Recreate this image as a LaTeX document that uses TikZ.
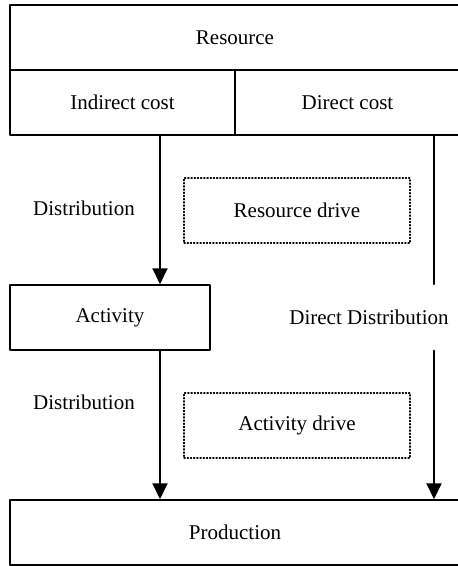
\documentclass[tikz,border=0pt]{standalone}
\usepackage{fontspec}
\setmainfont{Liberation Serif}
\usetikzlibrary{arrows.meta}

\begin{document}
\begin{tikzpicture}[
  x=1pt, y=-1pt,
  line cap=round,
  line join=round,
  every node/.style={font=\fontsize{21}{24}\selectfont},
  solidbox/.style={draw, line width=1.5pt, inner sep=0pt, minimum height=65pt},
  drivebox/.style={draw, dotted, line width=1.2pt, inner sep=0pt,
    minimum width=226pt, minimum height=65pt},
  flow/.style={line width=2.1pt, -{Triangle[length=16pt,width=15pt]}}
]

% Page: 458 x 566, right edge of the wide boxes runs off the page
\useasboundingbox (0,0) rectangle (458,566);
\clip (0,0) rectangle (458,566);

% --- boxes ---
\node[solidbox, minimum width=450pt] (resource) at (235,37.5) {Resource};
\node[solidbox, minimum width=225pt] (indirect) at (122.5,102.5) {Indirect cost};
\node[solidbox, minimum width=225pt] (direct) at (347.5,102.5) {Direct cost};
\node[solidbox, minimum width=200pt] (activity) at (110,317.5) {Activity};
\node[solidbox, minimum width=450pt] (production) at (235,532.5) {Production};

% dotted driver boxes
\node[drivebox] (resdrive) at (297,210.5) {Resource drive};
\node[drivebox] (actdrive) at (297,425.5) {Activity drive};

% --- labels ---
\node (dist1) at (84,208) {Distribution};
\node (dist2) at (84,402) {Distribution};
\node (directdist) at (369,317) {Direct Distribution};

% --- connectors ---
\coordinate (leftx) at (160,0);
\coordinate (rightx) at (434,0);

\draw[flow] (indirect.south -| leftx) -- (activity.north -| leftx);
\draw[flow] (activity.south -| leftx) -- (production.north -| leftx);

\draw[line width=1.4pt] (direct.south -| rightx) -- (activity.north -| rightx);
\draw[flow] (activity.south -| rightx) -- (production.north -| rightx);

\end{tikzpicture}
\end{document}
